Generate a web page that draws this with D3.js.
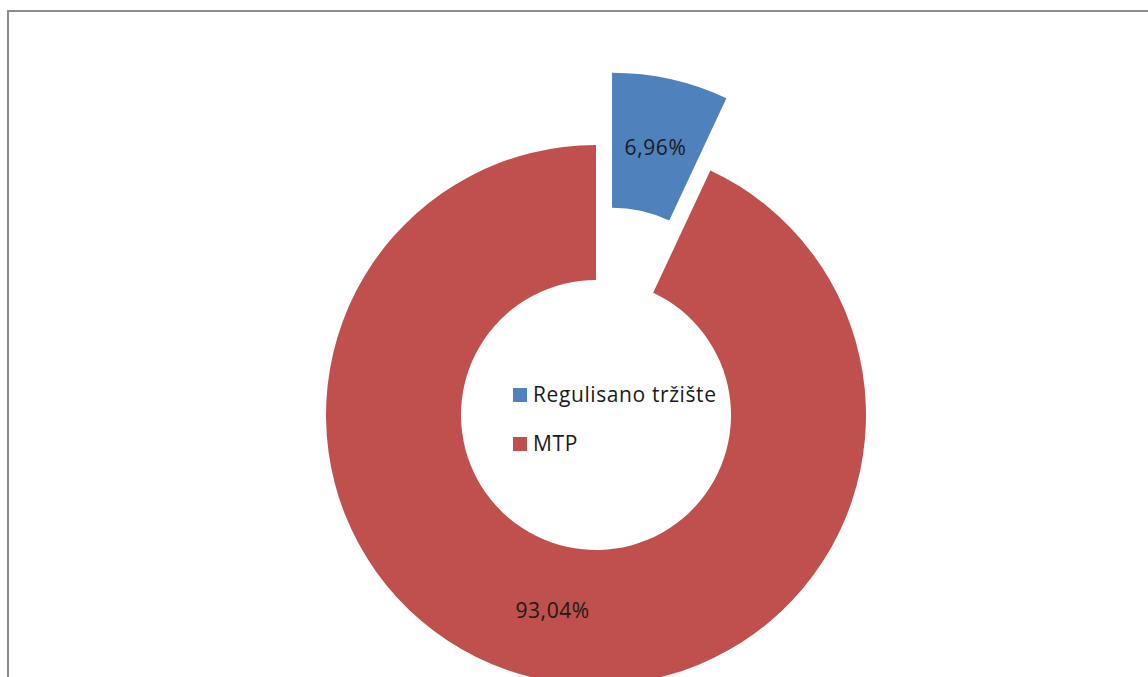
<!DOCTYPE html>
<html><head><meta charset="utf-8">
<script src="https://cdn.jsdelivr.net/npm/d3@7/dist/d3.min.js"></script>
<style>body{margin:0;background:#fff}svg{display:block}</style>
</head><body>
<svg id="c" width="1148" height="677"></svg>
<script>
const categories = ["Regulisano tržište", "MTP"];
const values = [6.96, 93.04];
const labels = ["6,96%", "93,04%"];
const colors = ["#4F81BD", "#C0504D"];

const svg = d3.select("#c");
const font = "'Open Sans', Lato, sans-serif";
// frame
svg.append("rect").attr("x", 8).attr("y", 11).attr("width", 1160).attr("height", 700)
  .attr("fill", "#fff").attr("stroke", "#8c8c8c").attr("stroke-width", 2);

const cx = 596, cy = 415, rO = 270, rI = 135, explode = 74;
const pie = d3.pie().sort(null).value(d => d);
const arcs = pie(values);
const arc = d3.arc().innerRadius(rI).outerRadius(rO);
const labelArc = d3.arc().innerRadius(200).outerRadius(200);
const g = svg.append("g").attr("transform", `translate(${cx},${cy})`);

arcs.forEach((a, i) => {
  const mid = (a.startAngle + a.endAngle) / 2;
  const off = i === 0 ? explode : 0;
  const dx = off * Math.sin(mid), dy = -off * Math.cos(mid);
  const sg = g.append("g").attr("transform", `translate(${dx},${dy})`);
  sg.append("path").attr("d", arc(a)).attr("fill", colors[i]);
  const c = labelArc.centroid(a);
  sg.append("text").attr("x", c[0]).attr("y", c[1]).attr("dy", "0.35em")
    .attr("text-anchor", "middle").attr("font-family", font).attr("font-size", 21)
    .attr("letter-spacing", 0.6).attr("fill", "#1a1a1a").text(labels[i]);
});

// legend
const leg = svg.append("g").attr("transform", "translate(513,388)");
categories.forEach((c, i) => {
  const row = leg.append("g").attr("transform", `translate(0,${i * 49})`);
  row.append("rect").attr("width", 14).attr("height", 14).attr("fill", colors[i]);
  row.append("text").attr("x", 20).attr("y", 7).attr("dy", "0.35em")
    .attr("font-family", font).attr("font-size", 21).attr("letter-spacing", 0.6)
    .attr("fill", "#1a1a1a").text(c);
});
</script>
</body></html>
